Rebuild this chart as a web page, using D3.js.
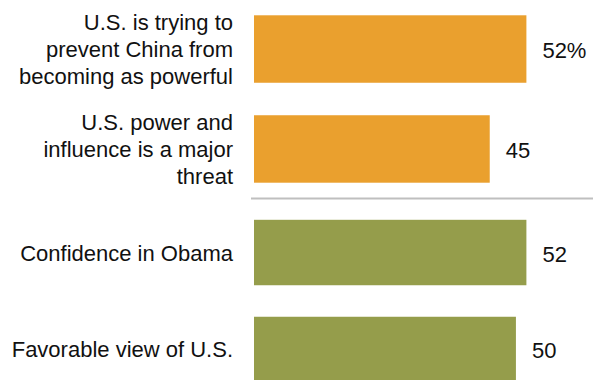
<!DOCTYPE html>
<html>
<head>
<meta charset="utf-8">
<script src="https://cdn.jsdelivr.net/npm/d3@7"></script>
<style>
  html, body { margin: 0; padding: 0; background: #fff; }
  svg { display: block; }
  text { font-family: "Liberation Sans", Arial, sans-serif; fill: #111; }
</style>
</head>
<body>
<svg id="chart" width="595" height="380"></svg>
<script>
// Views of China and of the U.S. (percent)
const chinaLabels = [
  ["U.S. is trying to", "prevent China from", "becoming as powerful"],
  ["U.S. power and", "influence is a major", "threat"]
];
const chinaValues = [52, 45];

const usLabels = [
  ["Confidence in Obama"],
  ["Favorable view of U.S."]
];
const usValues = [52, 50];

const orange = "#EAA02E";
const olive = "#959D4B";

const svg = d3.select("#chart");
const W = 595, H = 380;

const x = d3.scaleLinear().domain([0, 52]).range([254, 526.4]);

const groups = [
  { labels: chinaLabels, values: chinaValues, color: orange, range: [-1, 199], pct: true },
  { labels: usLabels, values: usValues, color: olive, range: [204, 398], pct: false }
];

const lineH = 27;

groups.forEach((g, gi) => {
  const ids = g.values.map((_, i) => gi + "-" + i);
  const y = d3.scaleBand().domain(ids).range(g.range)
    .paddingInner(0.325).paddingOuter(0.163);

  const rows = svg.append("g").selectAll("g")
    .data(g.values.map((v, i) => ({ id: ids[i], v, label: g.labels[i], first: i === 0 })))
    .join("g");

  rows.append("rect")
    .attr("x", x(0))
    .attr("y", d => y(d.id))
    .attr("width", d => x(d.v) - x(0))
    .attr("height", y.bandwidth())
    .attr("fill", g.color);

  rows.append("text")
    .attr("x", d => x(d.v) + 16)
    .attr("y", d => y(d.id) + y.bandwidth() / 2 + 9)
    .attr("font-size", 22)
    .text(d => d.v + (g.pct && d.first ? "%" : ""));

  const lab = rows.append("text")
    .attr("text-anchor", "end")
    .attr("font-size", 22);
  lab.selectAll("tspan")
    .data(d => d.label.map((t, k) => ({
      t,
      yy: y(d.id) + y.bandwidth() / 2 + 8 + (k - (d.label.length - 1) / 2) * lineH
    })))
    .join("tspan")
    .attr("x", 233)
    .attr("y", t => t.yy)
    .text(t => t.t);
});

// Divider between the two groups
svg.append("line")
  .attr("x1", 251).attr("x2", 593)
  .attr("y1", 198.5).attr("y2", 198.5)
  .attr("stroke", "#bfbfbf")
  .attr("stroke-width", 2);
</script>
</body>
</html>
